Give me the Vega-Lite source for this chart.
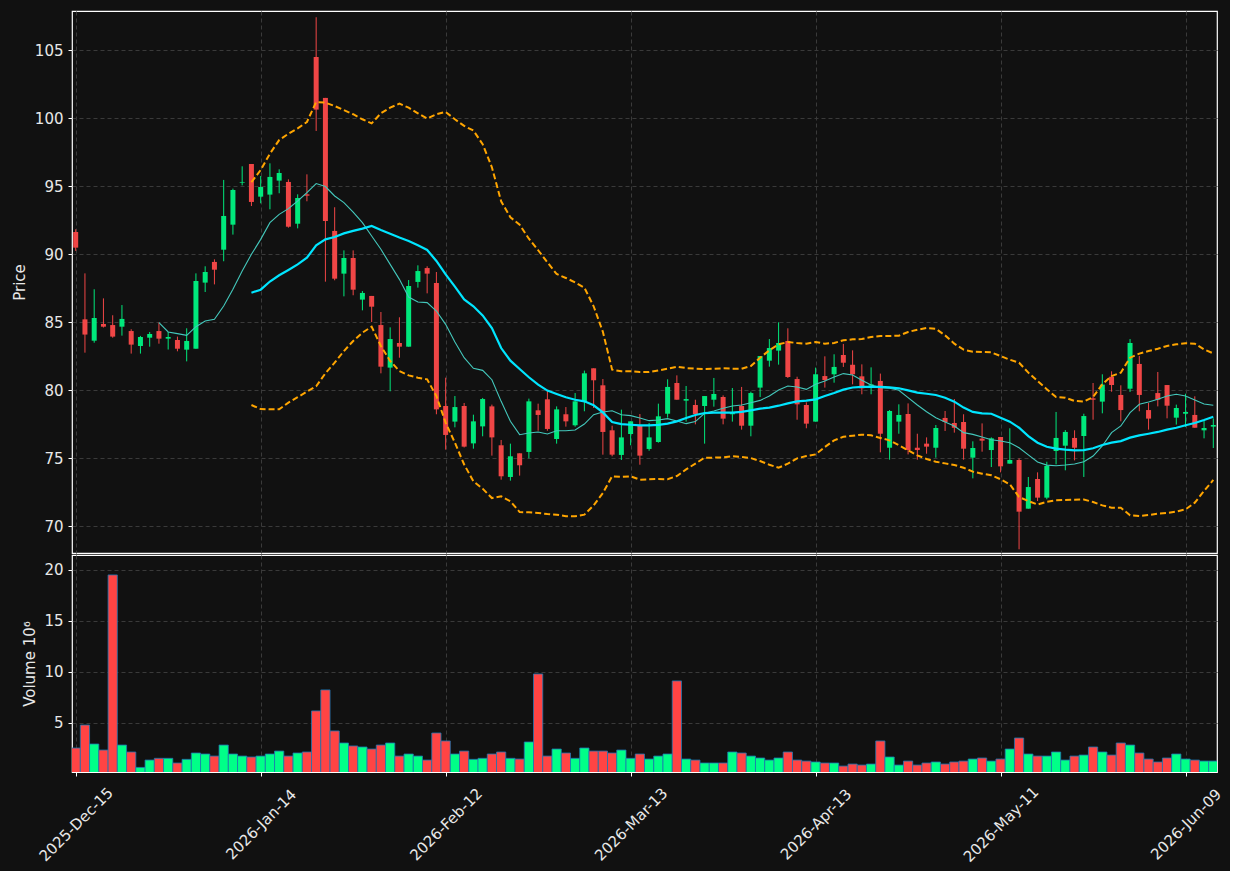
{
"$schema": "https://vega.github.io/schema/vega-lite/v6.json",
"background": "#111111",
"padding": {"left": 11, "top": 10, "right": 5, "bottom": 5},
"spacing": 0,
"config": {
  "view": {"stroke": "#ffffff", "strokeWidth": 1.2},
  "scale": {"continuousPadding": 0},
  "axis": {"labelColor": "#e8e8e8", "titleColor": "#e8e8e8", "labelFont": "DejaVu Sans", "titleFont": "DejaVu Sans", "labelFontSize": 15, "titleFontSize": 15, "titleFontWeight": "normal", "gridColor": "#3a3a3a", "gridDash": [4, 3], "gridWidth": 1, "domain": false, "tickColor": "#ffffff", "tickSize": 4, "tickWidth": 1}
},
"datasets": {"d": [
{"i":0,"o":91.64,"h":91.84,"l":90.25,"c":90.49,"v":2.55},
{"i":1,"o":85.22,"h":88.6,"l":82.77,"c":84.1,"v":4.8},
{"i":2,"o":83.65,"h":87.43,"l":83.5,"c":85.32,"v":2.94},
{"i":3,"o":84.88,"h":86.76,"l":84.62,"c":84.68,"v":2.35},
{"i":4,"o":84.8,"h":85.52,"l":83.87,"c":83.95,"v":19.5},
{"i":5,"o":84.68,"h":86.27,"l":84.02,"c":85.25,"v":2.84},
{"i":6,"o":84.36,"h":84.49,"l":82.7,"c":83.36,"v":2.16},
{"i":7,"o":83.26,"h":84.0,"l":82.7,"c":83.92,"v":0.65},
{"i":8,"o":83.87,"h":84.29,"l":83.21,"c":84.14,"v":1.37},
{"i":9,"o":84.36,"h":84.98,"l":83.43,"c":83.8,"v":1.54,"m10":84.98},
{"i":10,"o":83.8,"h":84.29,"l":83.0,"c":83.92,"v":1.54,"m10":84.29},
{"i":11,"o":83.7,"h":83.95,"l":82.87,"c":83.06,"v":1.08,"m10":84.17},
{"i":12,"o":82.99,"h":84.56,"l":82.13,"c":83.63,"v":1.44,"m10":84.04},
{"i":13,"o":83.06,"h":88.6,"l":83.06,"c":88.04,"v":2.06,"m10":84.68},
{"i":14,"o":87.92,"h":89.12,"l":87.23,"c":88.7,"v":1.96,"m10":85.1},
{"i":15,"o":89.44,"h":89.63,"l":87.79,"c":88.87,"v":1.76,"m10":85.22},
{"i":16,"o":90.34,"h":95.47,"l":89.49,"c":92.82,"v":2.84,"m10":86.2},
{"i":17,"o":92.18,"h":94.83,"l":91.45,"c":94.73,"v":1.96,"m10":87.43},
{"i":18,"o":95.27,"h":96.47,"l":95.07,"c":95.32,"v":1.76,"m10":88.77},
{"i":19,"o":96.64,"h":96.64,"l":93.55,"c":93.85,"v":1.67,"m10":90.0,"m20":87.18,"bu":95.3,"bl":78.92},
{"i":20,"o":94.24,"h":95.76,"l":93.75,"c":94.95,"v":1.76,"m10":91.1,"m20":87.4,"bu":96.2,"bl":78.62},
{"i":21,"o":94.39,"h":96.69,"l":93.31,"c":95.69,"v":1.96,"m10":92.33,"m20":88.0,"bu":97.4,"bl":78.6},
{"i":22,"o":95.42,"h":96.25,"l":94.49,"c":95.98,"v":2.25,"m10":92.94,"m20":88.46,"bu":98.4,"bl":78.6},
{"i":23,"o":95.32,"h":95.51,"l":91.96,"c":92.03,"v":1.76,"m10":93.36,"m20":88.85,"bu":98.87,"bl":79.1},
{"i":24,"o":92.25,"h":94.41,"l":91.91,"c":94.14,"v":2.06,"m10":93.92,"m20":89.26,"bu":99.26,"bl":79.5},
{"i":25,"o":94.41,"h":95.88,"l":93.9,"c":94.31,"v":2.16,"m10":94.53,"m20":89.75,"bu":99.73,"bl":79.9},
{"i":26,"o":104.51,"h":107.43,"l":99.07,"c":100.64,"v":6.18,"m10":95.2,"m20":90.66,"bu":101.2,"bl":80.3},
{"i":27,"o":101.5,"h":101.5,"l":87.99,"c":92.45,"v":8.24,"m10":94.98,"m20":91.1,"bu":101.15,"bl":81.25},
{"i":28,"o":91.72,"h":93.46,"l":88.09,"c":88.21,"v":4.22,"m10":94.29,"m20":91.27,"bu":100.9,"bl":82.03},
{"i":29,"o":88.58,"h":90.29,"l":86.91,"c":89.73,"v":3.04,"m10":93.8,"m20":91.54,"bu":100.6,"bl":82.89},
{"i":30,"o":89.73,"h":90.29,"l":86.99,"c":87.4,"v":2.75,"m10":93.11,"m20":91.72,"bu":100.3,"bl":83.63},
{"i":31,"o":86.67,"h":87.3,"l":85.88,"c":87.16,"v":2.65,"m10":92.33,"m20":91.89,"bu":99.93,"bl":84.24},
{"i":32,"o":86.94,"h":86.94,"l":85.02,"c":86.15,"v":2.45,"m10":91.35,"m20":92.08,"bu":99.63,"bl":84.68},
{"i":33,"o":84.8,"h":85.76,"l":81.25,"c":81.74,"v":2.84,"m10":90.37,"m20":91.79,"bu":100.37,"bl":83.26},
{"i":34,"o":81.67,"h":84.63,"l":79.93,"c":83.77,"v":3.04,"m10":89.26,"m20":91.52,"bu":100.78,"bl":82.16},
{"i":35,"o":83.48,"h":85.37,"l":82.4,"c":83.21,"v":1.76,"m10":88.16,"m20":91.23,"bu":101.08,"bl":81.42},
{"i":36,"o":83.21,"h":88.11,"l":83.21,"c":87.67,"v":1.96,"m10":86.86,"m20":90.98,"bu":100.78,"bl":81.1},
{"i":37,"o":87.97,"h":89.19,"l":87.55,"c":88.77,"v":1.76,"m10":86.5,"m20":90.66,"bu":100.37,"bl":80.93},
{"i":38,"o":88.99,"h":89.12,"l":87.13,"c":88.58,"v":1.37,"m10":86.45,"m20":90.32,"bu":99.98,"bl":80.81},
{"i":39,"o":87.89,"h":88.7,"l":78.24,"c":78.6,"v":4.02,"m10":85.83,"m20":89.51,"bu":100.3,"bl":79.58},
{"i":40,"o":78.85,"h":80.93,"l":75.64,"c":76.72,"v":3.24,"m10":84.85,"m20":88.53,"bu":100.47,"bl":77.62},
{"i":41,"o":77.7,"h":79.58,"l":77.28,"c":78.77,"v":1.96,"m10":83.55,"m20":87.62,"bu":99.93,"bl":76.15},
{"i":42,"o":78.85,"h":79.07,"l":75.8,"c":75.86,"v":2.25,"m10":82.4,"m20":86.68,"bu":99.44,"bl":74.55},
{"i":43,"o":76.1,"h":78.21,"l":75.71,"c":77.72,"v":1.44,"m10":81.62,"m20":86.18,"bu":99.1,"bl":73.31},
{"i":44,"o":77.35,"h":79.44,"l":76.62,"c":79.36,"v":1.54,"m10":81.47,"m20":85.51,"bu":98.1,"bl":72.77},
{"i":45,"o":78.82,"h":78.95,"l":75.2,"c":76.54,"v":1.96,"m10":80.78,"m20":84.58,"bu":96.4,"bl":72.08},
{"i":46,"o":75.96,"h":76.35,"l":73.43,"c":73.68,"v":2.16,"m10":79.19,"m20":83.11,"bu":93.9,"bl":72.21},
{"i":47,"o":73.63,"h":76.08,"l":73.36,"c":75.15,"v":1.54,"m10":77.72,"m20":82.18,"bu":92.72,"bl":71.84},
{"i":48,"o":75.37,"h":75.37,"l":73.73,"c":74.49,"v":1.47,"m10":76.74,"m20":81.57,"bu":92.18,"bl":71.05},
{"i":49,"o":75.47,"h":79.39,"l":75.0,"c":79.19,"v":3.14,"m10":76.86,"m20":80.96,"bu":91.15,"bl":71.03},
{"i":50,"o":78.53,"h":79.02,"l":77.03,"c":78.19,"v":9.8,"m10":76.94,"m20":80.42,"bu":90.3,"bl":70.98},
{"i":51,"o":79.34,"h":79.98,"l":77.03,"c":77.16,"v":1.76,"m10":76.79,"m20":79.98,"bu":89.41,"bl":70.91},
{"i":52,"o":76.42,"h":78.82,"l":76.08,"c":78.6,"v":2.45,"m10":77.03,"m20":79.73,"bu":88.55,"bl":70.86},
{"i":53,"o":78.24,"h":78.77,"l":77.33,"c":77.72,"v":2.06,"m10":77.03,"m20":79.49,"bu":88.26,"bl":70.74},
{"i":54,"o":77.43,"h":79.8,"l":77.33,"c":79.19,"v":1.54,"m10":77.08,"m20":79.31,"bu":87.94,"bl":70.74},
{"i":55,"o":79.19,"h":81.45,"l":78.46,"c":81.25,"v":2.55,"m10":77.52,"m20":79.19,"bu":87.55,"bl":70.86},
{"i":56,"o":81.62,"h":81.62,"l":78.7,"c":80.74,"v":2.25,"m10":78.21,"m20":78.9,"bu":86.18,"bl":71.54},
{"i":57,"o":80.37,"h":80.83,"l":75.27,"c":76.94,"v":2.25,"m10":78.41,"m20":78.38,"bu":84.3,"bl":72.45},
{"i":58,"o":77.06,"h":77.4,"l":75.15,"c":75.27,"v":2.06,"m10":78.5,"m20":77.67,"bu":81.52,"bl":73.68},
{"i":59,"o":75.25,"h":78.58,"l":74.88,"c":76.54,"v":2.35,"m10":78.21,"m20":77.52,"bu":81.4,"bl":73.63},
{"i":60,"o":76.79,"h":77.72,"l":75.96,"c":77.72,"v":1.54,"m10":78.14,"m20":77.47,"bu":81.4,"bl":73.68},
{"i":61,"o":77.43,"h":78.26,"l":74.53,"c":75.2,"v":1.96,"m10":77.97,"m20":77.43,"bu":81.35,"bl":73.43},
{"i":62,"o":75.69,"h":77.6,"l":75.56,"c":76.54,"v":1.47,"m10":77.77,"m20":77.43,"bu":81.35,"bl":73.46},
{"i":63,"o":76.2,"h":79.02,"l":76.15,"c":78.09,"v":1.76,"m10":77.82,"m20":77.46,"bu":81.46,"bl":73.48},
{"i":64,"o":78.28,"h":80.81,"l":77.99,"c":80.25,"v":1.96,"m10":77.92,"m20":77.55,"bu":81.59,"bl":73.46},
{"i":65,"o":80.54,"h":81.1,"l":79.31,"c":79.31,"v":9.12,"m10":77.75,"m20":77.72,"bu":81.74,"bl":73.7},
{"i":66,"o":79.24,"h":80.32,"l":77.7,"c":79.36,"v":1.47,"m10":77.55,"m20":77.97,"bu":81.64,"bl":74.19},
{"i":67,"o":78.92,"h":79.31,"l":77.5,"c":78.26,"v":1.37,"m10":77.7,"m20":78.19,"bu":81.59,"bl":74.61},
{"i":68,"o":78.85,"h":79.58,"l":76.08,"c":79.58,"v":1.08,"m10":78.31,"m20":78.33,"bu":81.57,"bl":75.05},
{"i":69,"o":79.31,"h":80.91,"l":78.8,"c":79.73,"v":1.08,"m10":78.48,"m20":78.36,"bu":81.59,"bl":75.05},
{"i":70,"o":79.51,"h":79.63,"l":77.5,"c":77.92,"v":1.08,"m10":78.68,"m20":78.36,"bu":81.62,"bl":75.07},
{"i":71,"o":78.24,"h":80.17,"l":77.7,"c":78.36,"v":2.16,"m10":78.85,"m20":78.36,"bu":81.59,"bl":75.15},
{"i":72,"o":78.85,"h":80.25,"l":77.11,"c":77.4,"v":2.06,"m10":78.92,"m20":78.41,"bu":81.59,"bl":75.1},
{"i":73,"o":77.4,"h":79.9,"l":76.62,"c":79.8,"v":1.76,"m10":79.09,"m20":78.53,"bu":81.79,"bl":75.02},
{"i":74,"o":80.2,"h":82.52,"l":79.51,"c":82.52,"v":1.57,"m10":79.26,"m20":78.65,"bu":82.4,"bl":74.8},
{"i":75,"o":82.18,"h":83.77,"l":81.74,"c":83.11,"v":1.37,"m10":79.58,"m20":78.73,"bu":82.94,"bl":74.53},
{"i":76,"o":82.92,"h":85.0,"l":81.89,"c":83.48,"v":1.57,"m10":80.02,"m20":78.87,"bu":83.38,"bl":74.31},
{"i":77,"o":83.63,"h":84.56,"l":80.91,"c":80.98,"v":2.16,"m10":80.32,"m20":79.04,"bu":83.55,"bl":74.61},
{"i":78,"o":80.83,"h":81.0,"l":77.84,"c":78.97,"v":1.37,"m10":80.25,"m20":79.19,"bu":83.48,"bl":75.0},
{"i":79,"o":78.92,"h":79.12,"l":77.21,"c":77.55,"v":1.27,"m10":80.07,"m20":79.24,"bu":83.43,"bl":75.17},
{"i":80,"o":77.7,"h":81.67,"l":77.7,"c":81.18,"v":1.18,"m10":80.44,"m20":79.34,"bu":83.55,"bl":75.29},
{"i":81,"o":81.05,"h":82.5,"l":80.2,"c":80.76,"v":1.08,"m10":80.69,"m20":79.58,"bu":83.43,"bl":75.83},
{"i":82,"o":81.18,"h":82.65,"l":80.56,"c":81.72,"v":1.08,"m10":80.98,"m20":79.8,"bu":83.48,"bl":76.32},
{"i":83,"o":82.6,"h":83.41,"l":81.72,"c":82.03,"v":0.78,"m10":81.23,"m20":80.05,"bu":83.68,"bl":76.59},
{"i":84,"o":81.88,"h":82.94,"l":80.44,"c":81.18,"v":0.98,"m10":81.13,"m20":80.21,"bu":83.75,"bl":76.66},
{"i":85,"o":81.03,"h":81.91,"l":79.71,"c":80.15,"v":0.88,"m10":80.74,"m20":80.25,"bu":83.77,"bl":76.74},
{"i":86,"o":80.34,"h":81.69,"l":79.71,"c":80.44,"v":0.98,"m10":80.39,"m20":80.25,"bu":83.92,"bl":76.69},
{"i":87,"o":80.69,"h":81.23,"l":75.44,"c":76.81,"v":3.24,"m10":80.2,"m20":80.25,"bu":84.0,"bl":76.5},
{"i":88,"o":75.78,"h":78.55,"l":74.9,"c":78.48,"v":1.67,"m10":80.15,"m20":80.22,"bu":84.0,"bl":76.32},
{"i":89,"o":77.7,"h":78.97,"l":76.81,"c":78.19,"v":0.88,"m10":80.0,"m20":80.15,"bu":84.02,"bl":75.96},
{"i":90,"o":78.26,"h":79.04,"l":75.29,"c":75.61,"v":1.27,"m10":79.46,"m20":80.0,"bu":84.29,"bl":75.59},
{"i":91,"o":75.78,"h":76.81,"l":74.9,"c":75.61,"v":0.88,"m10":78.92,"m20":79.83,"bu":84.46,"bl":75.22},
{"i":92,"o":76.08,"h":76.54,"l":75.34,"c":75.86,"v":1.08,"m10":78.43,"m20":79.75,"bu":84.58,"bl":74.95},
{"i":93,"o":75.78,"h":77.45,"l":75.05,"c":77.23,"v":1.18,"m10":77.99,"m20":79.66,"bu":84.53,"bl":74.75},
{"i":94,"o":77.97,"h":78.48,"l":77.01,"c":77.67,"v":0.98,"m10":77.67,"m20":79.46,"bu":84.04,"bl":74.63},
{"i":95,"o":77.6,"h":79.36,"l":76.89,"c":77.25,"v":1.18,"m10":77.38,"m20":79.17,"bu":83.43,"bl":74.51},
{"i":96,"o":77.67,"h":78.24,"l":74.9,"c":75.71,"v":1.27,"m10":76.89,"m20":78.73,"bu":82.99,"bl":74.31},
{"i":97,"o":75.05,"h":76.25,"l":73.53,"c":75.76,"v":1.47,"m10":76.76,"m20":78.41,"bu":82.84,"bl":74.02},
{"i":98,"o":76.45,"h":77.57,"l":75.49,"c":76.3,"v":1.57,"m10":76.57,"m20":78.31,"bu":82.82,"bl":73.87},
{"i":99,"o":75.61,"h":76.54,"l":74.36,"c":76.47,"v":1.27,"m10":76.37,"m20":78.28,"bu":82.79,"bl":73.75},
{"i":100,"o":76.57,"h":76.57,"l":73.97,"c":74.41,"v":1.47,"m10":76.27,"m20":77.99,"bu":82.52,"bl":73.46},
{"i":101,"o":74.61,"h":77.21,"l":74.61,"c":74.88,"v":2.45,"m10":76.15,"m20":77.7,"bu":82.25,"bl":73.09},
{"i":102,"o":74.88,"h":75.0,"l":68.31,"c":71.08,"v":3.53,"m10":75.78,"m20":77.25,"bu":82.03,"bl":72.16},
{"i":103,"o":71.3,"h":73.63,"l":71.3,"c":72.89,"v":1.96,"m10":75.25,"m20":76.64,"bu":81.3,"bl":71.86},
{"i":104,"o":73.48,"h":73.97,"l":71.86,"c":72.11,"v":1.76,"m10":74.73,"m20":76.15,"bu":80.68,"bl":71.6},
{"i":105,"o":72.11,"h":74.75,"l":71.99,"c":74.44,"v":1.76,"m10":74.5,"m20":75.85,"bu":80.08,"bl":71.8},
{"i":106,"o":75.54,"h":78.41,"l":74.56,"c":76.5,"v":2.16,"m10":74.46,"m20":75.71,"bu":79.51,"bl":71.91},
{"i":107,"o":75.93,"h":77.08,"l":74.12,"c":76.94,"v":1.37,"m10":74.51,"m20":75.64,"bu":79.46,"bl":71.94},
{"i":108,"o":76.5,"h":77.06,"l":74.85,"c":75.78,"v":1.76,"m10":74.58,"m20":75.59,"bu":79.22,"bl":71.96},
{"i":109,"o":76.64,"h":78.28,"l":73.63,"c":78.11,"v":1.86,"m10":74.75,"m20":75.61,"bu":79.17,"bl":71.98},
{"i":110,"o":79.41,"h":80.54,"l":77.84,"c":79.31,"v":2.65,"m10":75.17,"m20":75.74,"bu":79.51,"bl":71.79},
{"i":111,"o":79.17,"h":81.18,"l":78.31,"c":80.42,"v":2.16,"m10":75.91,"m20":75.98,"bu":80.44,"bl":71.54},
{"i":112,"o":81.0,"h":81.4,"l":79.9,"c":80.39,"v":1.86,"m10":76.89,"m20":76.15,"bu":81.05,"bl":71.37},
{"i":113,"o":79.66,"h":80.37,"l":77.72,"c":78.55,"v":3.04,"m10":77.38,"m20":76.27,"bu":81.3,"bl":71.37},
{"i":114,"o":80.12,"h":83.77,"l":79.88,"c":83.48,"v":2.84,"m10":78.36,"m20":76.52,"bu":82.4,"bl":70.81},
{"i":115,"o":81.94,"h":82.52,"l":78.46,"c":79.66,"v":2.06,"m10":78.97,"m20":76.69,"bu":82.7,"bl":70.76},
{"i":116,"o":78.55,"h":79.07,"l":77.11,"c":77.92,"v":1.47,"m10":79.14,"m20":76.81,"bu":82.89,"bl":70.83},
{"i":117,"o":79.8,"h":81.35,"l":78.82,"c":79.31,"v":1.18,"m10":79.34,"m20":76.94,"bu":83.06,"bl":70.93},
{"i":118,"o":80.39,"h":80.39,"l":77.94,"c":78.87,"v":1.57,"m10":79.58,"m20":77.11,"bu":83.26,"bl":70.98},
{"i":119,"o":77.99,"h":78.95,"l":77.48,"c":78.7,"v":1.96,"m10":79.71,"m20":77.25,"bu":83.38,"bl":71.08},
{"i":120,"o":78.28,"h":79.75,"l":77.3,"c":78.41,"v":1.47,"m10":79.58,"m20":77.43,"bu":83.46,"bl":71.25},
{"i":121,"o":78.19,"h":79.56,"l":77.25,"c":77.25,"v":1.37,"m10":79.29,"m20":77.6,"bu":83.43,"bl":71.74},
{"i":122,"o":77.06,"h":77.84,"l":76.47,"c":77.23,"v":1.27,"m10":79.0,"m20":77.82,"bu":83.01,"bl":72.6},
{"i":123,"o":77.33,"h":77.94,"l":75.76,"c":77.45,"v":1.27,"m10":78.9,"m20":78.06,"bu":82.72,"bl":73.41}
]},
"vconcat": [
  {
    "width": 1145,
    "height": 542,
    "data": {"name": "d"},
    "encoding": {
      "x": {"field": "i", "type": "quantitative", "scale": {"domain": [-0.4, 123.4], "nice": false, "zero": false, "padding": 0},
        "axis": {"values": [0, 20, 40, 60, 80, 100, 120], "labels": false, "ticks": false, "title": null, "grid": true, "domain": false}}
    },
    "layer": [
      {"mark": {"type": "rule", "strokeWidth": 1},
       "encoding": {
         "y": {"field": "l", "type": "quantitative", "title": "Price", "scale": {"domain": [68.04, 107.89], "nice": false, "zero": false, "padding": 0},
           "axis": {"values": [70, 75, 80, 85, 90, 95, 100, 105], "grid": true, "labelPadding": 5, "titlePadding": 7}},
         "y2": {"field": "h"},
         "color": {"condition": {"test": "datum.c >= datum.o", "value": "#00e87c"}, "value": "#f04646"}
       }},
      {"mark": {"type": "bar", "size": 5},
       "encoding": {
         "y": {"field": "o", "type": "quantitative", "title": "Price", "scale": {"domain": [68.04, 107.89], "nice": false, "zero": false, "padding": 0}},
         "y2": {"field": "c"},
         "color": {"condition": {"test": "datum.c >= datum.o", "value": "#00e87c"}, "value": "#f04646"}
       }},
      {"mark": {"type": "line", "color": "#44c8bc", "strokeWidth": 1.1},
       "encoding": {"y": {"field": "m10", "type": "quantitative", "title": "Price", "scale": {"domain": [68.04, 107.89], "nice": false, "zero": false, "padding": 0}}}},
      {"mark": {"type": "line", "color": "#00e5ff", "strokeWidth": 2.2},
       "encoding": {"y": {"field": "m20", "type": "quantitative", "title": "Price", "scale": {"domain": [68.04, 107.89], "nice": false, "zero": false, "padding": 0}}}},
      {"mark": {"type": "line", "color": "#ffa500", "strokeWidth": 2, "strokeDash": [6, 3]},
       "encoding": {"y": {"field": "bu", "type": "quantitative", "title": "Price", "scale": {"domain": [68.04, 107.89], "nice": false, "zero": false, "padding": 0}}}},
      {"mark": {"type": "line", "color": "#ffa500", "strokeWidth": 2, "strokeDash": [6, 3]},
       "encoding": {"y": {"field": "bl", "type": "quantitative", "title": "Price", "scale": {"domain": [68.04, 107.89], "nice": false, "zero": false, "padding": 0}}}}
    ]
  },
  {
    "width": 1145,
    "height": 217,
    "data": {"name": "d"},
    "mark": {"type": "bar", "size": 9.25, "stroke": "#1f77b4", "strokeWidth": 0.8, "clip": true},
    "encoding": {
      "x": {"field": "i", "type": "quantitative", "scale": {"domain": [-0.4, 123.4], "nice": false, "zero": false, "padding": 0},
        "axis": {"values": [0, 20, 40, 60, 80, 100, 120], "title": null, "grid": true, "domain": false,
          "labelExpr": "['2025-Dec-15','2026-Jan-14','2026-Feb-12','2026-Mar-13','2026-Apr-13','2026-May-11','2026-Jun-09'][round(datum.value/20)]",
          "labelAngle": -45, "labelAlign": "center", "labelBaseline": "middle", "labelPadding": 48, "labelFlush": false, "labelOverlap": false}},
      "y": {"field": "v", "type": "quantitative", "title": "Volume  10⁶", "scale": {"domain": [0.2, 21.45], "nice": false, "zero": false, "padding": 0},
        "axis": {"values": [5, 10, 15, 20], "grid": true, "labelPadding": 5, "titlePadding": 6}},
      "color": {"condition": {"test": "datum.c >= datum.o", "value": "#00ff88"}, "value": "#ff4444"}
    }
  }
]
}
